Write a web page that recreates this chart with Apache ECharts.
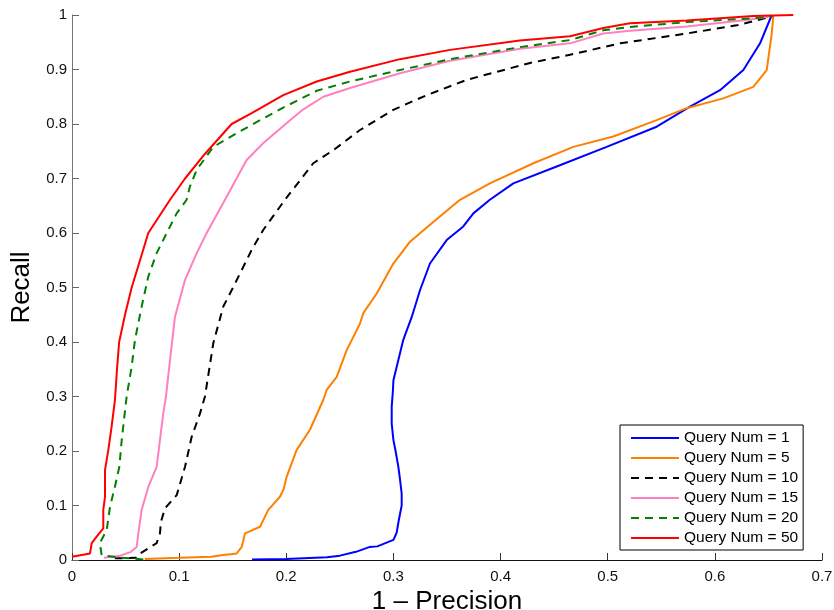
<!DOCTYPE html>
<html>
<head>
<meta charset="utf-8">
<script src="https://cdn.jsdelivr.net/npm/echarts@6/dist/echarts.min.js"></script>
<style>
html,body{margin:0;padding:0;background:#fff;}
#chart{width:834px;height:610px;}
</style>
</head>
<body>
<div id="chart"></div>
<script>
// Tick labels
const xTickLabels = ['0','0.1','0.2','0.3','0.4','0.5','0.6','0.7'];
const yTickLabels = ['0','0.1','0.2','0.3','0.4','0.5','0.6','0.7','0.8','0.9','1'];
const seriesNames = ['Query Num = 1','Query Num = 5','Query Num = 10','Query Num = 15','Query Num = 20','Query Num = 50'];

// [1 - Precision, Recall] pairs
const query1 = [[0.168,0.001],[0.20,0.002],[0.238,0.005],[0.250,0.008],[0.265,0.015],[0.278,0.024],[0.285,0.025],[0.300,0.037],[0.303,0.05],[0.305,0.073],[0.3077,0.10],[0.3077,0.122],[0.306,0.15],[0.3046,0.171],[0.302,0.20],[0.300,0.220],[0.2984,0.25],[0.2984,0.281],[0.2995,0.31],[0.300,0.330],[0.3046,0.367],[0.3092,0.404],[0.3171,0.446],[0.3248,0.495],[0.3341,0.544],[0.3497,0.587],[0.3652,0.612],[0.3746,0.636],[0.390,0.661],[0.4119,0.691],[0.4524,0.722],[0.499,0.758],[0.5457,0.795],[0.5768,0.832],[0.6048,0.862],[0.6266,0.899],[0.6422,0.948],[0.6531,1.0]];
const query5 = [[0.068,0.002],[0.10,0.004],[0.13,0.006],[0.1412,0.009],[0.15,0.011],[0.1537,0.012],[0.1584,0.024],[0.1615,0.049],[0.1755,0.061],[0.1832,0.092],[0.1941,0.116],[0.1975,0.13],[0.2004,0.153],[0.2097,0.202],[0.2221,0.239],[0.2346,0.294],[0.2377,0.312],[0.2471,0.336],[0.2564,0.385],[0.2688,0.434],[0.2719,0.453],[0.2844,0.489],[0.2999,0.544],[0.3155,0.584],[0.3341,0.615],[0.3621,0.661],[0.390,0.691],[0.4306,0.728],[0.4679,0.758],[0.5052,0.777],[0.5457,0.807],[0.5737,0.829],[0.6079,0.847],[0.6359,0.868],[0.6484,0.899],[0.6531,0.966],[0.6546,1.0]];
const query10 = [[0.040,0.003],[0.06,0.004],[0.0635,0.012],[0.079,0.031],[0.0821,0.049],[0.083,0.07],[0.0868,0.095],[0.0977,0.119],[0.1055,0.171],[0.1117,0.226],[0.1195,0.269],[0.1241,0.300],[0.1319,0.398],[0.1412,0.465],[0.149,0.495],[0.1584,0.532],[0.1677,0.569],[0.1786,0.606],[0.1988,0.661],[0.2035,0.673],[0.2252,0.728],[0.2439,0.752],[0.2688,0.789],[0.2999,0.826],[0.3311,0.853],[0.3684,0.881],[0.4275,0.912],[0.4648,0.927],[0.5115,0.948],[0.5737,0.966],[0.6204,0.981],[0.651,0.996]];
const query15 = [[0.03,0.004],[0.045,0.008],[0.055,0.015],[0.0604,0.024],[0.0619,0.049],[0.065,0.092],[0.0712,0.134],[0.079,0.171],[0.0821,0.220],[0.0852,0.269],[0.0877,0.300],[0.0915,0.367],[0.0961,0.446],[0.1055,0.514],[0.1164,0.563],[0.1257,0.600],[0.1428,0.661],[0.163,0.734],[0.1786,0.765],[0.2035,0.807],[0.2159,0.827],[0.2346,0.850],[0.2595,0.866],[0.3061,0.893],[0.3528,0.916],[0.418,0.938],[0.4648,0.948],[0.4959,0.966],[0.5208,0.971],[0.5737,0.979],[0.6297,0.991],[0.651,0.997]];
const query20 = [[0.0666,0.001],[0.055,0.003],[0.0417,0.005],[0.0277,0.009],[0.026,0.031],[0.0324,0.055],[0.0355,0.098],[0.040,0.134],[0.0442,0.171],[0.0464,0.220],[0.0485,0.257],[0.051,0.300],[0.0557,0.355],[0.0588,0.404],[0.065,0.465],[0.0712,0.520],[0.079,0.563],[0.0884,0.600],[0.0977,0.636],[0.107,0.661],[0.110,0.685],[0.1164,0.716],[0.1319,0.758],[0.1537,0.783],[0.1755,0.807],[0.1972,0.830],[0.2284,0.861],[0.2595,0.878],[0.3061,0.899],[0.3528,0.919],[0.418,0.941],[0.4648,0.954],[0.4959,0.972],[0.5208,0.978],[0.5737,0.987],[0.6359,0.994],[0.6546,0.998]];
const query50 = [[0,0.006],[0.0168,0.012],[0.0184,0.031],[0.023,0.043],[0.0292,0.058],[0.0292,0.092],[0.0308,0.116],[0.0308,0.165],[0.0339,0.202],[0.037,0.245],[0.0401,0.294],[0.042,0.35],[0.044,0.4],[0.0495,0.45],[0.0557,0.5],[0.0635,0.55],[0.0712,0.6],[0.0915,0.661],[0.1055,0.7],[0.124,0.745],[0.149,0.8],[0.1677,0.82],[0.1972,0.853],[0.2284,0.878],[0.2595,0.896],[0.3061,0.919],[0.3528,0.936],[0.418,0.953],[0.4648,0.961],[0.4959,0.976],[0.5208,0.985],[0.5737,0.990],[0.6359,0.998],[0.6732,1.0]];

const seriesData = [query1, query5, query10, query15, query20, query50];
const seriesColors = ['#0000ff','#ff8000','#000000','#ff80c0','#008000','#ff0000'];
const seriesDash = ['solid','solid',[8,6],'solid',[8,6],'solid'];

const FONT = '"Liberation Sans", Arial, Helvetica, sans-serif';
const chart = echarts.init(document.getElementById('chart'), null, {renderer:'canvas'});
const option = {
  animation: false,
  backgroundColor: '#fff',
  grid: {left: 72, right: 12, top: 15, bottom: 50, containLabel: false, outerBoundsMode: 'none'},
  legend: {
    orient: 'vertical',
    left: 620, top: 425,
    data: seriesNames,
    itemWidth: 48, itemHeight: 14, itemGap: 4,
    padding: [5, 5, 4, 10],
    borderColor: '#000', borderWidth: 1, backgroundColor: '#fff',
    itemStyle: {opacity: 0},
    textStyle: {fontFamily: FONT, fontSize: 15.5, color: '#000'}
  },
  xAxis: {
    type: 'value', min: 0, max: 0.7, interval: 0.1,
    name: '1 \u2013 Precision', nameLocation: 'middle', nameGap: 25,
    nameTextStyle: {fontFamily: FONT, fontSize: 26, color: '#000'},
    axisLine: {show: true, onZero: false, lineStyle: {color: '#111', width: 1}},
    axisTick: {show: true, inside: true, length: 7, lineStyle: {color: '#333'}},
    axisLabel: {fontFamily: FONT, fontSize: 15, color: '#111', margin: 9,
      formatter: v => xTickLabels[Math.round(v * 10)]},
    splitLine: {show: false}
  },
  yAxis: {
    type: 'value', min: 0, max: 1, interval: 0.1,
    name: 'Recall', nameLocation: 'middle', nameGap: 37,
    nameTextStyle: {fontFamily: FONT, fontSize: 26, color: '#000'},
    axisLine: {show: true, onZero: false, lineStyle: {color: '#777', width: 1}},
    axisTick: {show: true, inside: true, length: 7, lineStyle: {color: '#666'}},
    axisLabel: {fontFamily: FONT, fontSize: 15, color: '#111', margin: 5,
      formatter: v => yTickLabels[Math.round(v * 10)]},
    splitLine: {show: false}
  },
  series: seriesNames.map((name, i) => ({
    name: name,
    type: 'line',
    data: seriesData[i],
    showSymbol: false,
    symbol: 'none',
    clip: false,
    smooth: false,
    lineStyle: {color: seriesColors[i], width: 2, type: seriesDash[i]},
    itemStyle: {color: seriesColors[i]},
    emphasis: {disabled: true},
    z: 2 + i
  }))
};
chart.setOption(option);
</script>
</body>
</html>
